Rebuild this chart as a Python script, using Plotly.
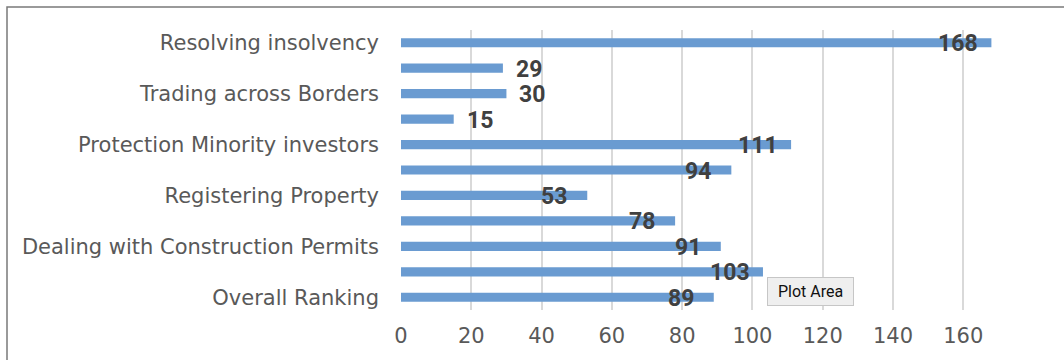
import plotly.graph_objects as go

categories = [
    "Overall Ranking",
    "Starting a Business",
    "Dealing with Construction Permits",
    "Getting Electricity",
    "Registering Property",
    "Getting Credit",
    "Protection Minority investors",
    "Paying Taxes",
    "Trading across Borders",
    "Enforcing Contracts",
    "Resolving insolvency",
]
values = [89, 103, 91, 78, 53, 94, 111, 15, 30, 29, 168]
shown_labels = categories[::2]
x_ticks = [0, 20, 40, 60, 80, 100, 120, 140, 160]

W, H = 1064, 360
ML, MR, MT, MB = 401, 48, 30, 50
PW, PH = W - ML - MR, H - MT - MB


def px_x(p):
    return (p - ML) / PW


def px_y(p):
    return (H - MB - p) / PH


fig = go.Figure()
fig.add_trace(go.Bar(
    y=categories, x=values, orientation="h",
    marker=dict(color="#6a9bd1", line=dict(width=0)),
    width=0.36, hoverinfo="skip",
))

# data labels
for c, v in zip(categories, values):
    inside = v > 40
    fig.add_annotation(
        x=v, y=c, xref="x", yref="y", text=str(v), showarrow=False,
        xanchor="center" if inside else "left",
        xshift=-33 if inside else 11, yshift=-1,
        font=dict(family="Roboto", size=23, color="#404040", weight="bold"),
    )

# tooltip box
fig.add_annotation(
    x=px_x(810.5), y=px_y(291.5), xref="paper", yref="paper",
    text="Plot Area", showarrow=False, xanchor="center", yanchor="middle",
    width=83, height=25, bgcolor="#efefef", bordercolor="#c6c6c6", borderwidth=1,
    font=dict(family="Roboto", size=16, color="#111111"),
)

# chart frame
fig.add_shape(
    type="rect", xref="paper", yref="paper",
    x0=px_x(7), x1=px_x(1070), y0=px_y(7), y1=px_y(370),
    line=dict(color="#7a7a7a", width=1.5), fillcolor="rgba(0,0,0,0)", layer="below",
)

fig.update_layout(
    width=W, height=H,
    margin=dict(l=ML, r=MR, t=MT, b=MB, pad=0),
    paper_bgcolor="white", plot_bgcolor="white",
    showlegend=False,
    bargap=0.6,
)
fig.update_xaxes(
    range=[0, 175], tickvals=x_ticks, showgrid=True, gridcolor="#d9d9d9", gridwidth=2,
    zeroline=False, showline=False, ticks="",
    tickfont=dict(family="DejaVu Sans", size=21, color="#595959"),
    ticklabelstandoff=11,
)
fig.update_yaxes(
    type="category", categoryorder="array", categoryarray=categories,
    range=[-0.5, len(categories) - 0.5],
    tickvals=shown_labels, showgrid=False, zeroline=False, showline=False, ticks="",
    tickfont=dict(family="DejaVu Sans", size=21, color="#595959"),
    ticklabelstandoff=21,
)

fig.write_html("out.html")
